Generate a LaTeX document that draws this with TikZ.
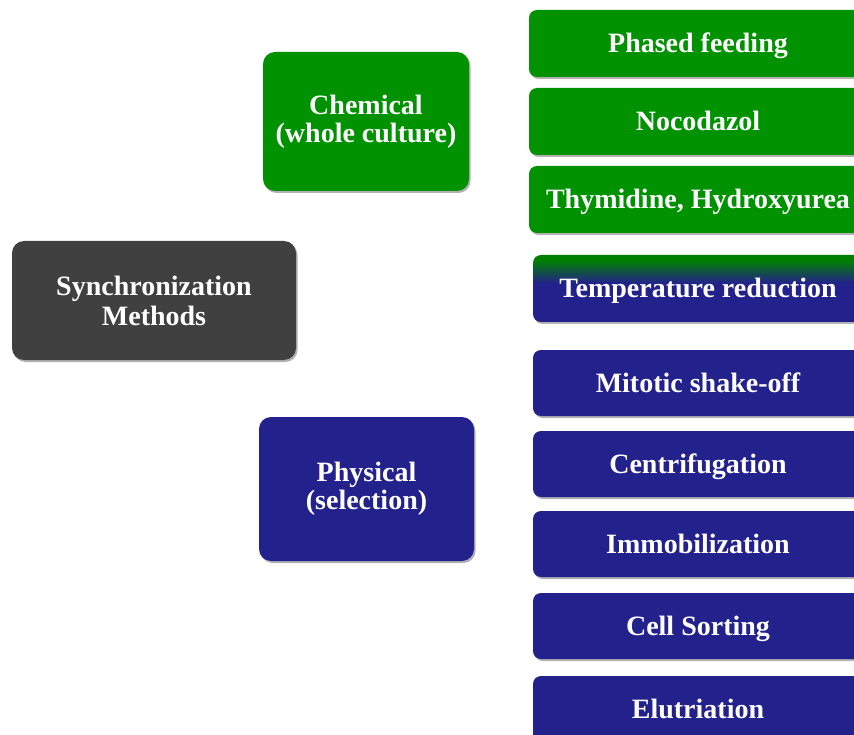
\documentclass[tikz,border=0pt]{standalone}
\usepackage{fontspec}
\setmainfont{Liberation Serif}
\usetikzlibrary{shadows}
\definecolor{chemgreen}{RGB}{0,146,0}
\definecolor{physblue}{RGB}{35,33,139}
\definecolor{syncgray}{RGB}{64,64,64}
\pgfdeclareverticalshading{tempshade}{100bp}{color(0bp)=(physblue); color(25bp)=(physblue); color(54bp)=(physblue); color(71bp)=(chemgreen!88!black); color(100bp)=(chemgreen!88!black)}
\tikzset{
  box/.style={rounded corners=8pt, text=white, align=center,
    font=\fontsize{28}{28}\selectfont\bfseries, inner sep=0pt,
    drop shadow={shadow xshift=1.5pt, shadow yshift=-2pt, fill=black, opacity=0.3}},
  bigbox/.style={box, rounded corners=12pt},
  linebox/.style={box, text height=22pt, text depth=4pt},
  greenbox/.style={linebox, fill=chemgreen, minimum width=338pt, minimum height=67pt},
  bluebox/.style={linebox, fill=physblue, minimum width=330pt, minimum height=66pt},
}
\begin{document}
\begin{tikzpicture}[x=1pt,y=-1pt]
\clip (0,0) rectangle (854,735);
\fill[white] (0,0) rectangle (854,735);
\node[bigbox, fill=syncgray, minimum width=284pt, minimum height=119pt, font=\fontsize{28}{30}\selectfont\bfseries] (sync) at (154,300.5) {Synchronization\\Methods};
\node[bigbox, fill=chemgreen, minimum width=206pt, minimum height=139pt] (chem) at (366,121.5) {Chemical\\(whole culture)};
\node[bigbox, fill=physblue, minimum width=215pt, minimum height=144pt] (phys) at (366.5,489) {Physical\\(selection)};
\node[greenbox] (phased) at (698,43.5) {Phased feeding};
\node[greenbox] (noco) at (698,121.5) {Nocodazol};
\node[greenbox] (thym) at (698,199.5) {Thymidine, Hydroxyurea};
\node[linebox, shading=tempshade, minimum width=330pt, minimum height=67pt] (temp) at (698,288.5) {Temperature reduction};
\node[bluebox] (mito) at (698,383) {Mitotic shake-off};
\node[bluebox] (centri) at (698,464) {Centrifugation};
\node[bluebox] (immo) at (698,544) {Immobilization};
\node[bluebox] (sort) at (698,626) {Cell Sorting};
\node[bluebox] (elut) at (698,709) {Elutriation};
\end{tikzpicture}
\end{document}
